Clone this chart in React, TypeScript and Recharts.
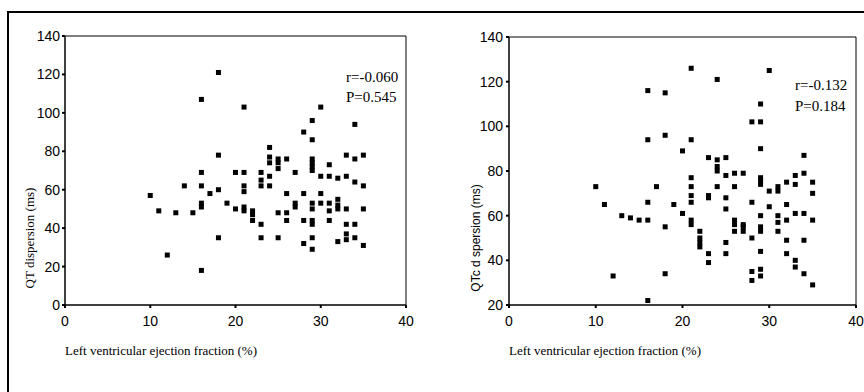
import React from "react";
import { ScatterChart, Scatter, XAxis, YAxis, ReferenceArea } from "recharts";

// Left panel: LVEF (%) vs QT dispersion (ms)
const qtEF = [
  10, 11, 12, 13, 14, 15,
  16, 16, 16, 16, 16, 16,
  17,
  18, 18, 18, 18,
  19,
  20, 20,
  21, 21, 21, 21, 21, 21,
  22, 22, 22,
  23, 23, 23, 23, 23,
  24, 24, 24, 24, 24,
  25, 25, 25, 25, 25,
  26, 26, 26, 26,
  27, 27, 27,
  28, 28, 28, 28,
  29, 29, 29, 29, 29, 29, 29, 29, 29, 29, 29, 29,
  30, 30, 30, 30,
  31, 31, 31, 31, 31,
  32, 32, 32, 32, 32,
  33, 33, 33, 33, 33, 33,
  34, 34, 34, 34, 34,
  35, 35, 35, 35,
];
const qtDispersion = [
  57, 49, 26, 48, 62, 48,
  18, 107, 69, 62, 53, 51,
  58,
  121, 78, 60, 35,
  53,
  69, 50,
  103, 69, 62, 59, 51, 49,
  49, 47, 44,
  69, 65, 62, 42, 35,
  82, 77, 74, 67, 62,
  76, 74, 71, 48, 35,
  76, 58, 48, 44,
  69, 53, 51,
  90, 58, 44, 32,
  96, 86, 76, 74, 72, 70, 53, 50, 44, 42, 35, 29,
  103, 67, 58, 53,
  73, 67, 53, 49, 44,
  66, 55, 52, 50, 33,
  78, 67, 50, 42, 37, 34,
  94, 76, 64, 42, 35,
  78, 62, 50, 31,
];

// Right panel: LVEF (%) vs QTc dispersion (ms)
const qtcEF = [
  10, 11, 12, 13, 14, 15,
  16, 16, 16, 16, 16,
  17,
  18, 18, 18, 18,
  19,
  20, 20,
  21, 21, 21, 21, 21, 21, 21, 21,
  22, 22, 22, 22,
  23, 23, 23, 23, 23,
  24, 24, 24, 24, 24,
  25, 25, 25, 25, 25, 25,
  26, 26, 26, 26, 26,
  27, 27, 27, 27,
  28, 28, 28, 28, 28,
  29, 29, 29, 29, 29, 29, 29, 29, 29, 29, 29, 29,
  30, 30, 30,
  31, 31, 31, 31, 31,
  32, 32, 32, 32, 32,
  33, 33, 33, 33, 33,
  34, 34, 34, 34, 34,
  35, 35, 35, 35,
];
const qtcDispersion = [
  73, 65, 33, 60, 59, 58,
  116, 94, 66, 58, 22,
  73,
  115, 96, 55, 34,
  65,
  89, 61,
  126, 94, 77, 73, 69, 66, 58, 56,
  53, 50, 48, 46,
  86, 69, 68, 43, 39,
  121, 85, 82, 80, 73,
  86, 78, 68, 63, 48, 43,
  79, 73, 58, 56, 53,
  79, 56, 55, 53,
  102, 66, 50, 35, 31,
  110, 102, 90, 77, 76, 74, 60, 55, 53, 44, 36, 33,
  125, 71, 64,
  73, 71, 60, 57, 53,
  75, 65, 58, 49, 43,
  78, 74, 61, 40, 37,
  87, 79, 61, 49, 34,
  75, 70, 58, 29,
];

const xTicks = [0, 10, 20, 30, 40];
const qtTicks = [0, 20, 40, 60, 80, 100, 120, 140];
const qtcTicks = [20, 40, 60, 80, 100, 120, 140];

const leftData = qtEF.map((x, i) => ({ x, y: qtDispersion[i] }));
const rightData = qtcEF.map((x, i) => ({ x, y: qtcDispersion[i] }));

const SquareDot = (props: any) => {
  const { cx, cy } = props;
  if (cx == null || cy == null) return null;
  return <rect x={cx - 2.5} y={cy - 2.5} width={5} height={5} fill="#000" />;
};

const tickFont = { fontFamily: "'Liberation Sans', Arial, sans-serif", fontSize: 14, fill: "#000" };
const serif = "'Liberation Serif', 'Times New Roman', serif";
const sans = "'Liberation Sans', Arial, sans-serif";

export default function App() {
  return (
    <div style={{ position: "absolute", left: 0, top: 0, width: 864, height: 392, background: "#fff" }}>
      <div
        style={{
          position: "absolute",
          left: 7,
          top: 11,
          width: 857,
          height: 381,
          borderTop: "2px solid #000",
          borderLeft: "2px solid #000",
          boxSizing: "border-box",
        }}
      />
      <div style={{ position: "absolute", left: 0, top: 0 }}>
        <ScatterChart width={432} height={392} margin={{ top: 36, right: 26, bottom: 57, left: 25 }}>
          <XAxis
            type="number"
            dataKey="x"
            domain={[0, 40]}
            ticks={xTicks}
            height={30}
            axisLine={{ stroke: "#000" }}
            tickLine={{ stroke: "#000", strokeWidth: 2 }}
            tickSize={3}
            tickMargin={8}
            tick={tickFont}
          />
          <YAxis
            type="number"
            dataKey="y"
            domain={[0, 140]}
            ticks={qtTicks}
            width={40}
            axisLine={{ stroke: "#000" }}
            tickLine={{ stroke: "#000", strokeWidth: 2 }}
            tickSize={3}
            tickMargin={2}
            tick={tickFont}
          />
          <ReferenceArea x1={0} x2={40} y1={0} y2={140} fill="none" stroke="#000" strokeWidth={1} ifOverflow="visible" />
          <Scatter data={leftData} shape={SquareDot} isAnimationActive={false} />
        </ScatterChart>
      </div>
      <div style={{ position: "absolute", left: 432, top: 0 }}>
        <ScatterChart width={432} height={392} margin={{ top: 37, right: 8, bottom: 57, left: 37 }}>
          <XAxis
            type="number"
            dataKey="x"
            domain={[0, 40]}
            ticks={xTicks}
            height={30}
            axisLine={{ stroke: "#000" }}
            tickLine={{ stroke: "#000", strokeWidth: 2 }}
            tickSize={3}
            tickMargin={8}
            tick={tickFont}
          />
          <YAxis
            type="number"
            dataKey="y"
            domain={[20, 140]}
            ticks={qtcTicks}
            width={40}
            axisLine={{ stroke: "#000" }}
            tickLine={{ stroke: "#000", strokeWidth: 2 }}
            tickSize={3}
            tickMargin={3}
            tick={tickFont}
          />
          <ReferenceArea x1={0} x2={40} y1={20} y2={140} fill="none" stroke="#000" strokeWidth={1} ifOverflow="visible" />
          <Scatter data={rightData} shape={SquareDot} isAnimationActive={false} />
        </ScatterChart>
      </div>
      <svg
        width={864}
        height={392}
        style={{ position: "absolute", left: 0, top: 0, pointerEvents: "none" }}
      >
        <text
          transform="translate(29,238) rotate(-90)"
          textAnchor="middle"
          dominantBaseline="central"
          fontFamily={serif}
          fontSize={13}
          fill="#000"
        >
          QT dispersion (ms)
        </text>
        <text
          transform="translate(476,238) rotate(-90)"
          textAnchor="middle"
          dominantBaseline="central"
          fontFamily={sans}
          fontSize={12}
          fill="#000"
        >
          QTc d spersion (ms)
        </text>
        <text x={65} y={350} dominantBaseline="central" fontFamily={serif} fontSize={13} fill="#000">
          Left ventricular ejection fraction (%)
        </text>
        <text x={509} y={350} dominantBaseline="central" fontFamily={serif} fontSize={13} fill="#000">
          Left ventricular ejection fraction (%)
        </text>
        <text x={346} y={77} dominantBaseline="central" fontFamily={serif} fontSize={15} fill="#000">
          r=-0.060
        </text>
        <text x={346} y={97} dominantBaseline="central" fontFamily={serif} fontSize={15} fill="#000">
          P=0.545
        </text>
        <text x={795} y={85} dominantBaseline="central" fontFamily={serif} fontSize={15} fill="#000">
          r=-0.132
        </text>
        <text x={795} y={106} dominantBaseline="central" fontFamily={serif} fontSize={15} fill="#000">
          P=0.184
        </text>
      </svg>
    </div>
  );
}
